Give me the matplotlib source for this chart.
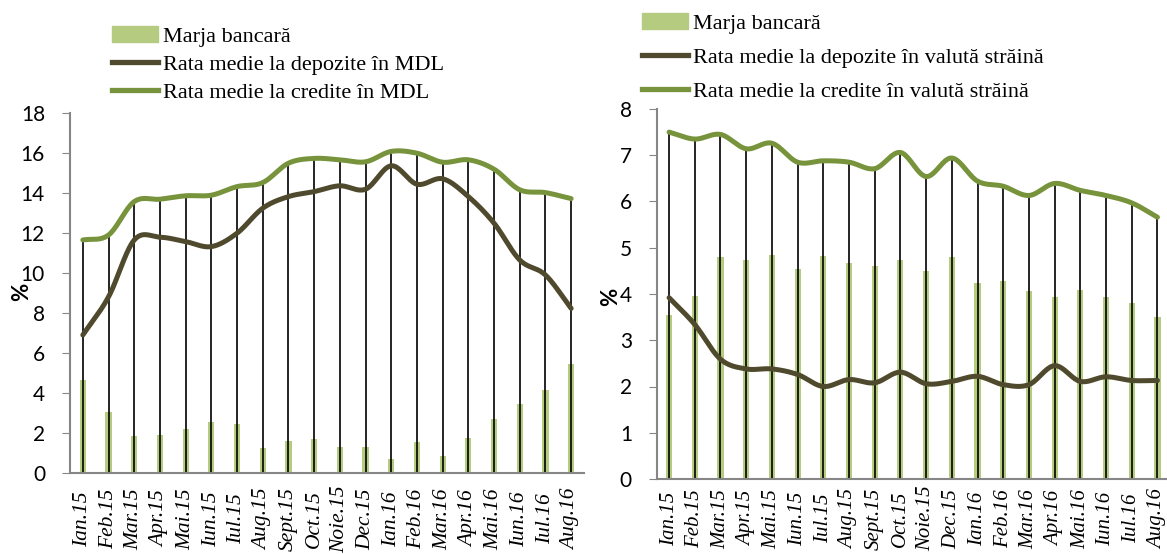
import numpy as np
import matplotlib
matplotlib.use("Agg")
import matplotlib.pyplot as plt
from matplotlib.patches import Patch
from matplotlib.lines import Line2D

months = ["Ian.15", "Feb.15", "Mar.15", "Apr.15", "Mai.15", "Iun.15", "Iul.15",
          "Aug.15", "Sept.15", "Oct.15", "Noie.15", "Dec.15", "Ian.16", "Feb.16",
          "Mar.16", "Apr.16", "Mai.16", "Iun.16", "Iul.16", "Aug.16"]

# left chart: MDL
marja_mdl = [4.67, 3.04, 1.84, 1.89, 2.22, 2.55, 2.44, 1.27, 1.60, 1.69,
             1.30, 1.30, 0.72, 1.55, 0.83, 1.77, 2.72, 3.44, 4.14, 5.44]
depozite_mdl = [6.90, 8.81, 11.65, 11.79, 11.57, 11.32, 11.99, 13.24, 13.82, 14.07,
                14.36, 14.19, 15.36, 14.44, 14.71, 13.82, 12.49, 10.65, 9.90, 8.23]
credite_mdl = [11.65, 11.90, 13.57, 13.69, 13.86, 13.89, 14.32, 14.52, 15.49, 15.73,
               15.66, 15.56, 16.08, 15.99, 15.54, 15.66, 15.19, 14.16, 14.02, 13.72]

# right chart: foreign currency
marja_val = [3.55, 3.96, 4.80, 4.74, 4.85, 4.55, 4.83, 4.66, 4.61, 4.74,
             4.49, 4.80, 4.24, 4.28, 4.07, 3.93, 4.09, 3.93, 3.81, 3.50]
depozite_val = [3.92, 3.34, 2.59, 2.38, 2.38, 2.26, 2.00, 2.15, 2.08, 2.31,
                2.06, 2.11, 2.22, 2.04, 2.04, 2.45, 2.11, 2.21, 2.13, 2.13]
credite_val = [7.50, 7.35, 7.45, 7.14, 7.26, 6.85, 6.88, 6.85, 6.71, 7.06,
               6.54, 6.94, 6.44, 6.33, 6.13, 6.39, 6.24, 6.13, 5.97, 5.66]

BAR = "#b4cb80"
DEP = "#4f4a2d"
CRED = "#77933c"
AXC = "#868686"
SERIF = "Liberation Serif"


def smooth(x, y, n=20):
    # catmull-rom, close to excel's smoothed line
    x = np.asarray(x, float)
    y = np.asarray(y, float)
    px = np.concatenate([[2 * x[0] - x[1]], x, [2 * x[-1] - x[-2]]])
    py = np.concatenate([[2 * y[0] - y[1]], y, [2 * y[-1] - y[-2]]])
    xs, ys = [], []
    t = np.linspace(0, 1, n, endpoint=False)
    for i in range(1, len(px) - 2):
        for p, out in ((px, xs), (py, ys)):
            p0, p1, p2, p3 = p[i - 1], p[i], p[i + 1], p[i + 2]
            out.extend(0.5 * ((2 * p1) + (-p0 + p2) * t
                              + (2 * p0 - 5 * p1 + 4 * p2 - p3) * t ** 2
                              + (-p0 + 3 * p1 - 3 * p2 + p3) * t ** 3))
    xs.append(x[-1])
    ys.append(y[-1])
    return np.array(xs), np.array(ys)


def draw(ax, marja, dep, cred, ymax, xpad, xsize):
    x = np.arange(len(marja))
    ax.bar(x, marja, width=0.24, color=BAR, zorder=1)
    ax.vlines(x, 0, cred, color="black", lw=1.2, zorder=2)
    sx, sy = smooth(x, dep)
    ax.plot(sx, sy, color=DEP, lw=3.6, solid_capstyle="round", zorder=3)
    sx, sy = smooth(x, cred)
    ax.plot(sx, sy, color=CRED, lw=3.6, solid_capstyle="round", zorder=4)
    ax.set_ylim(0, ymax)
    ax.set_xticks(x)
    ax.set_xticklabels(months, rotation=90, family=SERIF, style="italic",
                       fontsize=xsize, va="center")
    ax.tick_params(axis="x", length=0, pad=xpad)
    ax.tick_params(axis="y", length=6, color=AXC, pad=12, labelsize=15)
    for lab in ax.get_yticklabels():
        lab.set_family("Lato")
    for s in ("top", "right"):
        ax.spines[s].set_visible(False)
    for s in ("left", "bottom"):
        ax.spines[s].set_color(AXC)
        ax.spines[s].set_linewidth(1.5)
    handles = [Patch(color=BAR), Line2D([], [], color=DEP, lw=3.8),
               Line2D([], [], color=CRED, lw=3.8)]
    return handles


fig = plt.figure(figsize=(11.67, 5.54), dpi=100)
W, H = 1167, 554

ax1 = fig.add_axes([70 / W, 1 - 473 / H, 514 / W, 360 / H])
h = draw(ax1, marja_mdl, depozite_mdl, credite_mdl, 18, 33, 15.5)
ax1.set_xlim(-0.5, 19.5)
ax1.set_yticks(range(0, 19, 2))
ax1.legend(h, ["Marja bancară", "Rata medie la depozite în MDL",
               "Rata medie la credite în MDL"],
           loc="upper left", bbox_to_anchor=(112 / W, 1 - 26 / H),
           bbox_transform=fig.transFigure, frameon=False, handlelength=2.05,
           handletextpad=0.25, labelspacing=0.34, borderpad=0, borderaxespad=0,
           prop={"family": SERIF, "size": 16})
fig.text(22 / W, 1 - 292 / H, "%", rotation=90, ha="center", va="center",
         fontsize=16, fontweight="bold", family="Lato")

ax2 = fig.add_axes([657 / W, 1 - 479 / H, 512 / W, 370 / H])
h = draw(ax2, marja_val, depozite_val, credite_val, 8, 28.5, 15)
ax2.set_xlim(-0.47, 19.45)
ax2.set_yticks(range(0, 9))
ax2.legend(h, ["Marja bancară", "Rata medie la depozite în valută străină",
               "Rata medie la credite în valută străină"],
           loc="upper left", bbox_to_anchor=(642 / W, 1 - 13 / H),
           bbox_transform=fig.transFigure, frameon=False, handlelength=2.05,
           handletextpad=0.25, labelspacing=0.62, borderpad=0, borderaxespad=0,
           prop={"family": SERIF, "size": 16})
fig.text(611 / W, 1 - 297 / H, "%", rotation=90, ha="center", va="center",
         fontsize=16, fontweight="bold", family="Lato")

fig.savefig("out.png", dpi=100)
